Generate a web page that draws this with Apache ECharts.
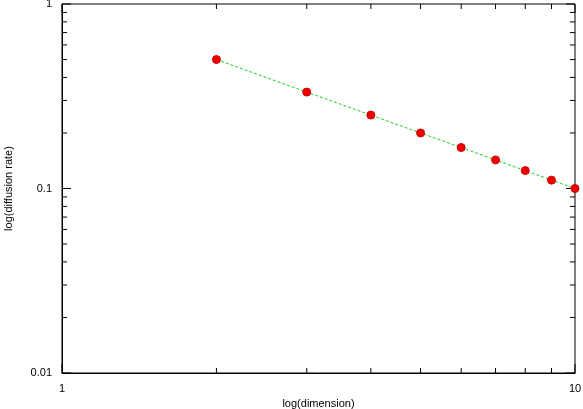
<!DOCTYPE html>
<html><head><meta charset="utf-8">
<script src="https://cdn.jsdelivr.net/npm/echarts@6/dist/echarts.min.js"></script>
<style>body{margin:0}#c{width:583px;height:409px}</style></head>
<body><div id="c"></div>
<script>
const dims = [2,3,4,5,6,7,8,9,10];
const rates = [0.5,0.333,0.25,0.2,0.1667,0.1429,0.125,0.111,0.1];
const xTicks = [1,10];
const yTicks = [0.01,0.1,1];
const chart = echarts.init(document.getElementById('c'));
const pts = dims.map((d,i)=>[d,rates[i]]);
const font = {fontFamily:'Liberation Sans',fontSize:11,color:'#000'};
chart.setOption({
  animation:false,
  grid:{left:62,right:8,top:4,bottom:36,show:true,borderColor:'#000',borderWidth:1,outerBoundsMode:'none',containLabel:false},
  xAxis:{type:'log',min:1,max:10,logBase:10,name:'log(dimension)',nameLocation:'middle',nameGap:24,
    nameTextStyle:font,axisLabel:Object.assign({margin:10},font),axisLine:{lineStyle:{color:'#000'}},
    axisTick:{show:false},splitLine:{show:false}},
  yAxis:{type:'log',min:0.01,max:1,logBase:10,name:'log(diffusion rate)',nameLocation:'middle',nameGap:48,
    nameTextStyle:font,axisLabel:Object.assign({margin:10},font),axisLine:{lineStyle:{color:'#000'}},
    axisTick:{show:false},splitLine:{show:false}},
  series:[{type:'line',data:pts,symbol:'circle',symbolSize:8,
    lineStyle:{color:'#22cc22',type:[3,2],width:1},
    itemStyle:{color:'#ee0000',borderColor:'#cc0000'}}]
});
const g=[];
const x0=chart.convertToPixel({xAxisIndex:0},1), x1=chart.convertToPixel({xAxisIndex:0},10);
const y0=chart.convertToPixel({yAxisIndex:0},0.01), y1=chart.convertToPixel({yAxisIndex:0},1);
function line(a,b,c,d){g.push({type:'line',shape:{x1:a,y1:b,x2:c,y2:d},style:{stroke:'#000',lineWidth:1}});}
for(let k=1;k<=10;k++){
  const px=chart.convertToPixel({xAxisIndex:0},k);
  const L=(k===1||k===10)?9:5;
  line(px,y0,px,y0-L); line(px,y1,px,y1+L);
}
for(const base of [0.01,0.1]){
  for(let k=1;k<=10;k++){
    const py=chart.convertToPixel({yAxisIndex:0},base*k);
    const L=(k===1||k===10)?9:5;
    line(x0,py,x0+L,py); line(x1,py,x1-L,py);
  }
}
chart.setOption({graphic:g});
</script></body></html>
